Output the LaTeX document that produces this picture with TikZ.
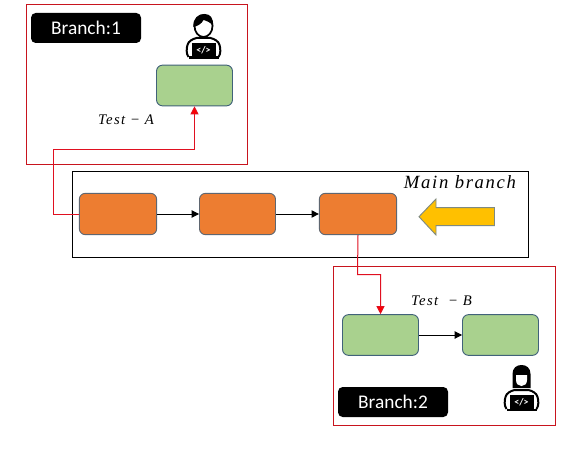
\documentclass[tikz,border=0pt]{standalone}
\usepackage{fontspec}
\setmainfont{Carlito}
\newfontfamily\mfont[LetterSpace=9]{Liberation Serif}
\usetikzlibrary{arrows.meta}
\definecolor{redline}{HTML}{C8141E}
\definecolor{conn}{HTML}{E01020}
\definecolor{orangeb}{HTML}{ED7D31}
\definecolor{greenb}{HTML}{A9D18E}
\definecolor{edgeb}{HTML}{41627A}
\definecolor{edgeo}{HTML}{5F6670}
\definecolor{yel}{HTML}{FFC000}
\definecolor{yeledge}{HTML}{7F8A80}
\tikzset{
  x=0.75pt,y=-0.75pt,
  orangebox/.style={draw=edgeo,fill=orangeb,rounded corners=4.5pt,line width=0.7pt,minimum height=31pt,inner sep=0pt},
  greenbox/.style={draw=edgeb,fill=greenb,rounded corners=4.5pt,line width=0.7pt,minimum width=57pt,minimum height=30.5pt,inner sep=0pt},
  tag/.style={fill=black,text=white,rounded corners=3.5pt,minimum width=82.5pt,minimum height=22.5pt,inner sep=0pt,font=\fontsize{14.5}{17}\selectfont},
  blackarrow/.style={draw=black,line width=0.7pt,-{Triangle[length=5.5pt,width=5.5pt]}},
  redarrow/.style={draw=conn,line width=0.75pt,-{Triangle[length=6pt,width=6pt,fill=red]}},
  mathlabel/.style={inner sep=0pt,font=\mfont\itshape\fontsize{11}{13}\selectfont},
  coderbody/.pic={
    \draw[black,line width=1.5pt,fill=white] (-15,21) .. controls (-17.5,18) and (-17,12) .. (-16,9) .. controls (-15,5) and (-11,3) .. (-7,2) -- (7,2) .. controls (11,3) and (15,5) .. (16,9) .. controls (17,12) and (17.5,18) .. (15,21);
    \fill[black] (-12,7) rectangle (12,21);
    \fill[black] (-15,20.5) rectangle (15,23);
    \node[text=white,inner sep=0pt,font=\fontsize{7.5}{8}\selectfont\bfseries] at (0,14) {</>};
  },
  malecoder/.pic={
    \pic {coderbody};
    \draw[black,line width=1.3pt,fill=white] (0,-10) ellipse[x radius=9,y radius=11];
    \fill[black] (-10,-9) .. controls (-11,-18) and (-5,-22) .. (1,-22) .. controls (7,-22) and (10,-18) .. (9.5,-10) .. controls (7,-14) and (3,-15) .. (0,-16) .. controls (-2,-12) and (-6,-10) .. (-10,-9) -- cycle;
  },
  femalecoder/.pic={
    \pic {coderbody};
    \fill[black] (-9,0) -- (-9,-14) .. controls (-9,-20) and (-5,-23) .. (0,-23) .. controls (5,-23) and (9,-20) .. (9,-14) -- (9,0) -- cycle;
    \fill[white] (-5.5,-13) -- (5.5,-13) -- (5.5,-8) .. controls (5.5,-4) and (3,-2) .. (0,-2) .. controls (-3,-2) and (-5.5,-4) .. (-5.5,-8) -- cycle;
  }
}
\begin{document}
\begin{tikzpicture}
\useasboundingbox (0,0) rectangle (582,467);
\fill[white] (0,0) rectangle (582,467);

\coordinate (f1a) at (26.5,4.5);
\coordinate (f1b) at (247.5,164.5);
\draw[redline,line width=0.75pt] (f1a) rectangle (f1b);
\coordinate (f2a) at (333.5,266.5);
\coordinate (f2b) at (555.5,425.5);
\draw[redline,line width=0.75pt] (f2a) rectangle (f2b);
\coordinate (f3a) at (72.5,171.5);
\coordinate (f3b) at (528.5,257.5);
\draw[black,line width=0.75pt] (f3a) rectangle (f3b);

\node[orangebox,minimum width=58pt] (o1) at (118,214) {};
\node[orangebox,minimum width=57pt] (o2) at (237.5,214) {};
\node[orangebox,minimum width=58pt] (o3) at (358,214) {};
\node[greenbox] (g1) at (194.5,85.5) {};
\node[greenbox] (g2) at (380.5,335) {};
\node[greenbox] (g3) at (500.5,335) {};

\node[tag] (t1) at (86,28) {Branch:1};
\node[tag] (t2) at (393,402) {Branch:2};

\node[mathlabel] (la) at (126,120) {Test − A};
\node[mathlabel] (lb) at (441.5,300.5) {Test\ \ − B};
\node[mathlabel,font=\mfont\itshape\fontsize{14}{16}\selectfont] (lm) at (460,182.5) {Main branch};

\draw[blackarrow] (o1) -- (o2);
\draw[blackarrow] (o2) -- (o3);
\draw[blackarrow] (g2) -- (g3);

\coordinate (r1) at (53.5,214);
\coordinate (r2) at (53.5,149.5);
\coordinate (r3) at (194.5,149.5);
\draw[redarrow] (o1.west) -- (r1) -- (r2) -- (r3) -- (g1.south);
\coordinate (s1) at (357.5,274.5);
\coordinate (s2) at (380.5,274.5);
\draw[redarrow] (o3.south) -- (s1) -- (s2) -- (g2.north);

\draw[yeledge,fill=yel,line width=0.7pt] (419,216.7) -- (436,199) -- (436,207.7) -- (494.5,207.7) -- (494.5,225.7) -- (436,225.7) -- (436,235) -- cycle;

\pic (p1) at (203.5,36) {malecoder};
\pic (p2) at (521.5,388) {femalecoder};
\end{tikzpicture}
\end{document}
